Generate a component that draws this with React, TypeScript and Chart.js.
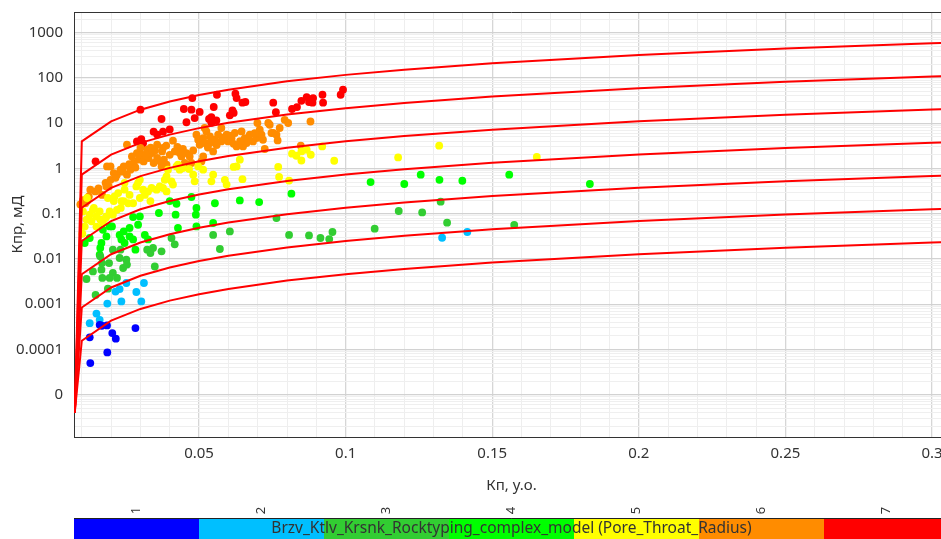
import { useEffect, useRef } from "react";
import { Chart, registerables } from "chart.js";

Chart.register(...registerables);

// Rock types of the model and their colours
const rockTypes = ["1", "2", "3", "4", "5", "6", "7"];
const rockColors = ["#0000FF", "#00BFFF", "#32CD32", "#00FF00", "#FFFF00", "#FF8C00", "#FF0000"];
const colorBarTitle = "Brzv_Ktlv_Krsnk_Rocktyping_complex_model (Pore_Throat_Radius)";

const xTitle = "Кп, у.о.";
const yTitle = "Кпр, мД";

// Axis tick labels
const xMajorValues = [0.05, 0.1, 0.15, 0.2, 0.25, 0.3];
const xMajorLabels = ["0.05", "0.1", "0.15", "0.2", "0.25", "0.3"];
const yMajorValues = [0.00001, 0.0001, 0.001, 0.01, 0.1, 1, 10, 100, 1000];
const yMajorLabels = ["0", "0.0001", "0.001", "0.01", "0.1", "1", "10", "100", "1000"];

// Samples: porosity (fraction) and permeability (mD) by rock type
const type1Phi = [0.0127, 0.0161, 0.0168, 0.0186, 0.0204, 0.0216, 0.0283, 0.0187, 0.0129];
const type1Perm = [0.000185, 0.00035, 0.000334, 0.00034, 0.00023, 0.000173, 0.000297, 0.000086, 0.00005];

const type2Phi = [0.0127, 0.015, 0.0161, 0.0187, 0.0215, 0.0235, 0.0229, 0.0252, 0.0286, 0.0303, 0.0312, 0.1329, 0.1415];
const type2Perm = [0.00038, 0.00062, 0.00045, 0.00103, 0.0019, 0.00115, 0.00216, 0.00294, 0.00186, 0.00115, 0.00294, 0.0294, 0.0394];

const type3Phi = [0.0323, 0.0334, 0.0343, 0.0372, 0.0349, 0.0417, 0.0406, 0.0548, 0.0571, 0.0605, 0.0764, 0.0807, 0.0875, 0.0914, 0.0944, 0.0955, 0.0252, 0.0241, 0.0206, 0.0195, 0.017, 0.0138, 0.0116, 0.0147, 0.0189, 0.0167, 0.0229, 0.0193, 0.0206, 0.022, 0.0254, 0.0232, 0.0163, 0.0169, 0.1099, 0.1181, 0.1261, 0.1324, 0.1346, 0.1575];
const type3Perm = [0.016, 0.0135, 0.0175, 0.0147, 0.0068, 0.021, 0.029, 0.034, 0.0166, 0.0406, 0.08, 0.034, 0.0331, 0.029, 0.0275, 0.0394, 0.0096, 0.0063, 0.0049, 0.0038, 0.0038, 0.0053, 0.0036, 0.0016, 0.0022, 0.0058, 0.0105, 0.0081, 0.016, 0.0038, 0.0075, 0.016, 0.0114, 0.0081, 0.0466, 0.1146, 0.1067, 0.184, 0.0632, 0.0562];

const type4Phi = [0.0474, 0.0491, 0.0489, 0.0554, 0.0639, 0.0705, 0.0815, 0.0423, 0.04, 0.042, 0.0363, 0.0428, 0.0491, 0.0548, 0.0298, 0.0275, 0.0292, 0.0263, 0.0229, 0.0235, 0.0195, 0.0172, 0.0127, 0.011, 0.0184, 0.0167, 0.0161, 0.0263, 0.0275, 0.0246, 0.0315, 0.0326, 0.1085, 0.12, 0.1256, 0.132, 0.1398, 0.1558, 0.1833, 0.0163, 0.0203, 0.0243, 0.0283];
const type4Perm = [0.234, 0.134, 0.095, 0.17, 0.196, 0.181, 0.277, 0.166, 0.19, 0.095, 0.1035, 0.0483, 0.0524, 0.0622, 0.087, 0.0843, 0.057, 0.0483, 0.034, 0.027, 0.0524, 0.044, 0.029, 0.0225, 0.0315, 0.0225, 0.0124, 0.0315, 0.027, 0.0225, 0.034, 0.027, 0.5, 0.453, 0.73, 0.56, 0.535, 0.73, 0.453, 0.0175, 0.0524, 0.0406, 0.016];

const type5Phi = [0.0639, 0.0628, 0.0588, 0.0594, 0.0548, 0.0542, 0.048, 0.0485, 0.0411, 0.0406, 0.0383, 0.0377, 0.0389, 0.0428, 0.0445, 0.0497, 0.0394, 0.077, 0.0773, 0.0807, 0.0817, 0.0832, 0.0849, 0.0867, 0.0881, 0.0849, 0.092, 0.0961, 0.1179, 0.1319, 0.1652, 0.0104, 0.0116, 0.011, 0.0102, 0.0127, 0.0138, 0.015, 0.0161, 0.0184, 0.0195, 0.0206, 0.0189, 0.0212, 0.0224, 0.0235, 0.0246, 0.0258, 0.0263, 0.0275, 0.0298, 0.0315, 0.0326, 0.0338, 0.0355, 0.0366, 0.0389, 0.0246, 0.0286, 0.0298, 0.0233, 0.0172, 0.015, 0.0133, 0.0118, 0.0141, 0.0163, 0.0181, 0.022, 0.0243, 0.0334, 0.0209, 0.0648, 0.0618, 0.0514, 0.0466, 0.0423, 0.0434, 0.0309, 0.0292];
const type5Perm = [1.56, 1.11, 0.56, 0.44, 0.73, 0.52, 0.73, 0.52, 0.44, 0.52, 0.56, 0.37, 0.31, 1.21, 1.02, 1.11, 0.94, 1.08, 0.65, 0.54, 2.12, 1.91, 1.5, 2.59, 2.01, 2.38, 3.07, 1.48, 1.75, 3.18, 1.79, 0.112, 0.074, 0.052, 0.036, 0.095, 0.122, 0.087, 0.112, 0.087, 0.112, 0.095, 0.222, 0.24, 0.286, 0.19, 0.34, 0.17, 0.26, 0.17, 0.222, 0.26, 0.31, 0.37, 0.34, 0.4, 0.67, 0.48, 0.4, 0.56, 0.134, 0.062, 0.052, 0.068, 0.222, 0.134, 0.074, 0.08, 0.122, 0.19, 0.19, 0.19, 0.58, 1.08, 0.94, 0.97, 1.11, 0.94, 0.34, 0.48];

const type6Phi = [0.0377, 0.0411, 0.0417, 0.0434, 0.044, 0.0457, 0.0468, 0.0451, 0.0474, 0.0491, 0.0497, 0.0502, 0.0514, 0.0519, 0.0525, 0.0537, 0.0537, 0.0554, 0.0565, 0.0576, 0.0576, 0.0594, 0.0599, 0.0611, 0.0622, 0.0628, 0.0645, 0.0656, 0.0662, 0.0673, 0.0684, 0.0696, 0.065, 0.038, 0.0389, 0.0372, 0.0514, 0.0508, 0.0548, 0.0519, 0.0699, 0.0707, 0.0736, 0.0741, 0.0753, 0.0775, 0.0792, 0.0804, 0.0713, 0.0718, 0.0747, 0.0764, 0.0768, 0.0724, 0.088, 0.0847, 0.0186, 0.0198, 0.0209, 0.022, 0.0232, 0.0243, 0.0254, 0.0266, 0.0277, 0.0271, 0.0288, 0.0294, 0.0305, 0.0311, 0.0323, 0.0328, 0.034, 0.0345, 0.0357, 0.0357, 0.0368, 0.0374, 0.0181, 0.0192, 0.0198, 0.0169, 0.0146, 0.0124, 0.0118, 0.0112, 0.0254, 0.03, 0.0095, 0.0104, 0.0129, 0.0184, 0.0157, 0.0215, 0.024, 0.0262, 0.0283, 0.0318, 0.0335, 0.035, 0.0388, 0.04, 0.0426, 0.0445, 0.048, 0.053, 0.056, 0.0582, 0.0605, 0.0618, 0.064, 0.0668, 0.069];
const type6Perm = [2.83, 4.1, 2.38, 2.19, 1.84, 2.19, 1.84, 1.32, 1.32, 5.56, 4.31, 3.34, 4.7, 3.65, 6.58, 5.1, 3.65, 4.31, 5.56, 7.83, 3.96, 5.56, 3.96, 4.7, 6.07, 3.07, 6.58, 4.7, 3.65, 5.56, 3.96, 4.7, 3.07, 1.56, 1.21, 1.11, 1.84, 1.43, 2.38, 7.83, 10.1, 7.18, 10.1, 9.25, 6.07, 7.83, 11.9, 10.1, 5.56, 4.31, 6.07, 5.56, 4.17, 2.69, 10.9, 3.18, 1.11, 1.11, 0.79, 0.73, 0.94, 1.11, 0.73, 0.94, 1.32, 1.84, 2.19, 1.56, 2.01, 1.43, 2.59, 1.7, 2.19, 1.32, 3.34, 1.7, 1.43, 2.38, 0.48, 0.4, 0.56, 0.26, 0.31, 0.24, 0.19, 0.17, 3.34, 2.83, 0.16, 0.2, 0.34, 0.4, 0.36, 0.62, 0.85, 1.25, 1.05, 1.95, 2.9, 2.5, 3.2, 2.0, 3.0, 2.7, 2.5, 2.9, 3.3, 4.8, 5.3, 3.5, 4.0, 4.2, 6.0];

const type7Phi = [0.03, 0.0561, 0.0624, 0.0628, 0.0477, 0.0448, 0.0474, 0.0502, 0.055, 0.0542, 0.0534, 0.0559, 0.0542, 0.0614, 0.0618, 0.0605, 0.0648, 0.0658, 0.0753, 0.0762, 0.0817, 0.0834, 0.0849, 0.0867, 0.0875, 0.0887, 0.0889, 0.0921, 0.0923, 0.0983, 0.0991, 0.0457, 0.0485, 0.0372, 0.0345, 0.0357, 0.0377, 0.04, 0.0288, 0.0303, 0.0309, 0.0147];
const type7Perm = [19.9, 42.6, 44.8, 36, 36, 20.6, 19.9, 17.8, 22.8, 13.6, 12.4, 11.5, 10.2, 19.2, 16.9, 14.9, 28.4, 29.4, 28.4, 17.5, 20.6, 22.7, 31.3, 37.9, 29.4, 28.4, 36, 42.6, 28.4, 42.6, 55, 10.5, 13.0, 12.4, 6.5, 5.6, 6.5, 7.3, 3.95, 4.45, 3.6, 1.44];

// Pore throat radius boundary curves: shared porosity nodes, permeability per curve
const curvePhi = [0.0076, 0.01, 0.02, 0.03, 0.04, 0.05, 0.06, 0.08, 0.1, 0.12, 0.15, 0.2, 0.25, 0.3, 0.32];
const curve1Perm = [0.000004, 0.000156, 0.000433, 0.000785, 0.0012, 0.00166, 0.00217, 0.00332, 0.0046, 0.00601, 0.00836, 0.0127, 0.0177, 0.0231, 0.0254];
const curve2Perm = [0.000004, 0.000847, 0.00234, 0.00426, 0.00649, 0.00902, 0.0118, 0.018, 0.025, 0.0326, 0.0453, 0.069, 0.0959, 0.125, 0.138];
const curve3Perm = [0.000004, 0.00459, 0.0127, 0.0231, 0.0352, 0.0489, 0.0638, 0.0975, 0.135, 0.177, 0.246, 0.374, 0.52, 0.679, 0.746];
const curve4Perm = [0.000004, 0.0249, 0.0689, 0.125, 0.191, 0.265, 0.346, 0.528, 0.733, 0.957, 1.33, 2.03, 2.82, 3.68, 4.05];
const curve5Perm = [0.000004, 0.135, 0.373, 0.678, 1.03, 1.44, 1.88, 2.86, 3.97, 5.19, 7.21, 11.0, 15.3, 20.0, 21.9];
const curve6Perm = [0.000004, 0.731, 2.02, 3.67, 5.6, 7.78, 10.2, 15.5, 21.5, 28.1, 39.1, 59.6, 82.8, 108, 119];
const curve7Perm = [0.000004, 3.96, 11.0, 19.9, 30.3, 42.2, 55.1, 84.1, 117, 152, 212, 323, 449, 586, 644];

const FONT = "'Noto Sans', 'DejaVu Sans', sans-serif";
const TEXT = "#333333";

const rockPhi = [type1Phi, type2Phi, type3Phi, type4Phi, type5Phi, type6Phi, type7Phi];
const rockPerm = [type1Perm, type2Perm, type3Perm, type4Perm, type5Perm, type6Perm, type7Perm];
const curves = [curve1Perm, curve2Perm, curve3Perm, curve4Perm, curve5Perm, curve6Perm, curve7Perm];

// Colour bar with rock type numbers under the plot, plus the top frame line
const colorBarPlugin = {
  id: "rockColorBar",
  afterDraw(chart: any) {
    const { ctx, chartArea } = chart;
    const left = chartArea.left;
    const right = chartArea.right;
    const segW = (right - left) / rockTypes.length;
    const barTop = 518;
    const barBottom = chart.height;
    ctx.save();
    rockTypes.forEach((name, i) => {
      ctx.fillStyle = rockColors[i];
      ctx.fillRect(left + i * segW, barTop, segW + 0.5, barBottom - barTop);
      ctx.save();
      ctx.translate(left + (i + 0.5) * segW, 510.5);
      ctx.rotate(-Math.PI / 2);
      ctx.fillStyle = TEXT;
      ctx.font = `13px ${FONT}`;
      ctx.textAlign = "center";
      ctx.textBaseline = "middle";
      ctx.fillText(name, 0, 0);
      ctx.restore();
    });
    ctx.strokeStyle = "#222222";
    ctx.lineWidth = 1;
    ctx.beginPath();
    ctx.moveTo(left, barTop + 0.5);
    ctx.lineTo(right, barTop + 0.5);
    ctx.stroke();

    ctx.fillStyle = TEXT;
    ctx.font = `15.5px ${FONT}`;
    ctx.textAlign = "center";
    ctx.textBaseline = "middle";
    ctx.fillText(colorBarTitle, (left + right) / 2, 529);

    ctx.strokeStyle = "#333333";
    ctx.beginPath();
    ctx.moveTo(left, chartArea.top + 0.5);
    ctx.lineTo(right, chartArea.top + 0.5);
    ctx.stroke();
    ctx.restore();
  },
};

const nearly = (a: number, b: number) => Math.abs(a - b) <= Math.abs(b) * 1e-6;

export default function App() {
  const canvasRef = useRef<HTMLCanvasElement>(null);

  useEffect(() => {
    if (!canvasRef.current) return;

    const pointSets = rockTypes.map((name, i) => ({
      label: name,
      data: rockPhi[i].map((x, j) => ({ x, y: rockPerm[i][j] })),
      showLine: false,
      pointRadius: 3.9,
      pointHoverRadius: 3.9,
      pointBorderWidth: 0,
      pointBackgroundColor: rockColors[i],
      pointBorderColor: rockColors[i],
      backgroundColor: rockColors[i],
      borderColor: rockColors[i],
      order: 1,
    }));

    const curveSets = curves.map((perm, i) => ({
      label: `r${i + 1}`,
      data: curvePhi.map((x, j) => ({ x, y: perm[j] })),
      showLine: true,
      borderColor: "#FF0000",
      borderWidth: 2,
      pointRadius: 0,
      pointHoverRadius: 0,
      fill: false,
      tension: 0,
      order: 0,
    }));

    const chart = new Chart(canvasRef.current, {
      type: "scatter",
      data: { datasets: [...curveSets, ...pointSets] as any },
      plugins: [colorBarPlugin],
      options: {
        responsive: false,
        animation: false,
        devicePixelRatio: 1,
        layout: { padding: { left: 0, top: 12, right: 11, bottom: 44 } },
        plugins: { legend: { display: false }, tooltip: { enabled: false } },
        events: [],
        scales: {
          x: {
            type: "linear",
            min: 0.00734,
            max: 0.3058,
            afterBuildTicks: (scale: any) => {
              const ticks: any[] = [];
              for (let i = 1; i <= 30; i++) ticks.push({ value: i / 100, major: i % 5 === 0 });
              scale.ticks = ticks;
            },
            afterFit: (scale: any) => {
              scale.height = 58;
              scale.paddingLeft = 0;
              scale.paddingRight = 0;
            },
            ticks: {
              autoSkip: false,
              maxRotation: 0,
              padding: 8,
              color: TEXT,
              font: { family: FONT, size: 15 },
              callback: (value: any) => {
                const k = xMajorValues.findIndex((v) => nearly(Number(value), v));
                return k >= 0 ? xMajorLabels[k] : "";
              },
            },
            grid: {
              drawTicks: false,
              color: (ctx: any) => (ctx.tick && ctx.tick.major ? "#d6d6d6" : "#eeeeee"),
              lineWidth: (ctx: any) => (ctx.tick && ctx.tick.major ? 1.3 : 1),
            },
            border: { display: true, color: "#333333", width: 1 },
            title: {
              display: true,
              text: xTitle,
              color: TEXT,
              font: { family: FONT, size: 15 },
              padding: { top: 0, bottom: 0 },
            },
          },
          y: {
            type: "logarithmic",
            min: 0.00000116,
            max: 2870,
            afterBuildTicks: (scale: any) => {
              const ticks: any[] = [];
              for (let e = -6; e <= 3; e++) {
                for (let m = 1; m <= 9; m++) {
                  const v = m * Math.pow(10, e);
                  if (v >= scale.min && v <= scale.max) ticks.push({ value: v, major: m === 1 });
                }
              }
              scale.ticks = ticks;
            },
            afterFit: (scale: any) => {
              scale.width = 74;
              scale.paddingTop = 0;
              scale.paddingBottom = 0;
            },
            ticks: {
              autoSkip: false,
              padding: 11,
              color: TEXT,
              font: { family: FONT, size: 15 },
              callback: (value: any) => {
                const k = yMajorValues.findIndex((v) => nearly(Number(value), v));
                return k >= 0 ? yMajorLabels[k] : "";
              },
            },
            grid: {
              drawTicks: false,
              color: (ctx: any) => (ctx.tick && ctx.tick.major ? "#d2d2d2" : "#efefef"),
              lineWidth: (ctx: any) => (ctx.tick && ctx.tick.major ? 1.3 : 1),
            },
            border: { display: true, color: "#333333", width: 1 },
            title: {
              display: true,
              text: yTitle,
              color: TEXT,
              font: { family: FONT, size: 15 },
              padding: { top: 9, bottom: 0 },
            },
          },
        },
      } as any,
    });

    return () => chart.destroy();
  }, []);

  return (
    <div
      style={{
        position: "fixed",
        left: 0,
        top: 0,
        width: 941,
        height: 539,
        overflow: "hidden",
        background: "#ffffff",
      }}
    >
      <canvas ref={canvasRef} width={960} height={539} style={{ display: "block" }} />
    </div>
  );
}
